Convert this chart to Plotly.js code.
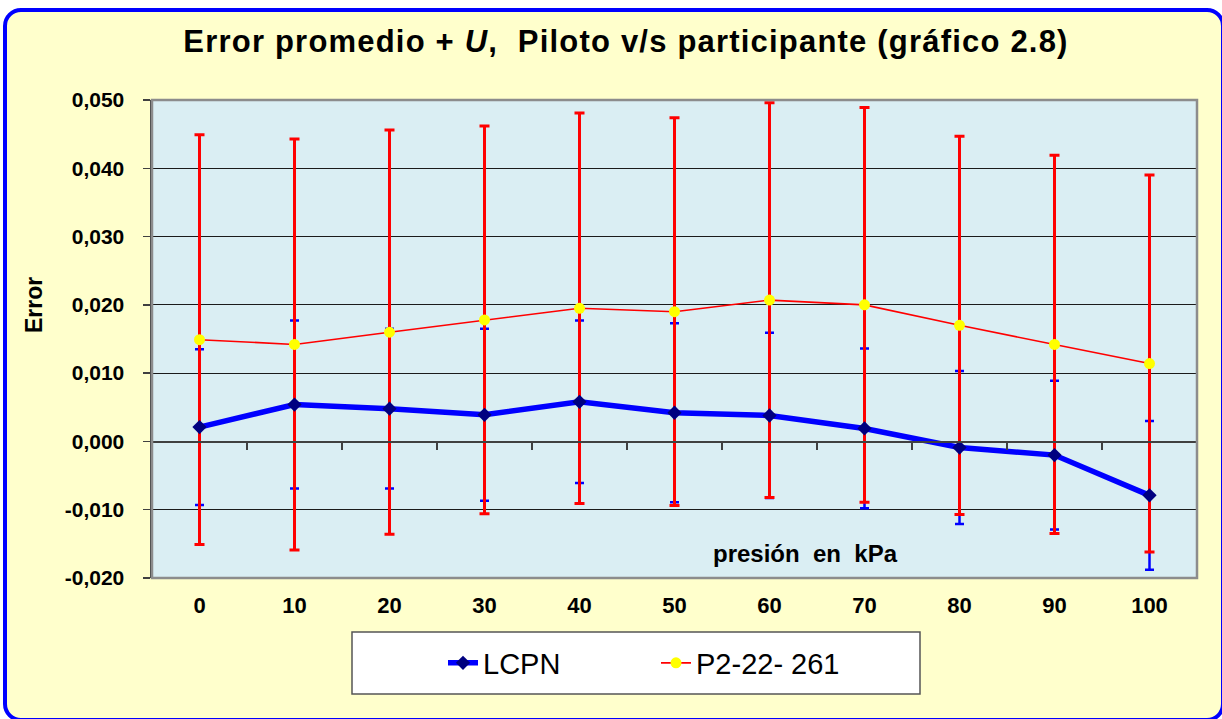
<!DOCTYPE html>
<html>
<head>
<meta charset="utf-8">
<script src="https://cdn.plot.ly/plotly-3.0.1.min.js"></script>
<style>
  html, body { margin:0; padding:0; background:#ffffff; width:1222px; height:719px; overflow:hidden; }
  #frame { position:absolute; left:3px; top:8px; width:1222px; height:714px; box-sizing:border-box;
           border:4px solid #0000ff; border-radius:18px; background:#FFFFCC; }
  #chart { position:absolute; left:0; top:0; width:1222px; height:719px; }
  #chart .gtitle { letter-spacing: 1.2px; }
</style>
</head>
<body>
<div id="frame"></div>
<div id="chart"></div>
<script>
// ---- data ----
const pressures = ['0','10','20','30','40','50','60','70','80','90','100'];
const lcpnError = [0.0021, 0.0054, 0.0048, 0.0039, 0.0058, 0.0042, 0.0038, 0.0019, -0.0009, -0.0020, -0.0079];
const lcpnU     = [0.0114, 0.0123, 0.0117, 0.0126, 0.0119, 0.0131, 0.0121, 0.0117, 0.0112, 0.0109, 0.0109];
const p2Error   = [0.0149, 0.0142, 0.0160, 0.0178, 0.0195, 0.0190, 0.0207, 0.0200, 0.0170, 0.0142, 0.0114];
const p2U       = [0.0300, 0.0301, 0.0296, 0.0284, 0.0286, 0.0284, 0.0289, 0.0289, 0.0277, 0.0277, 0.0276];
const yTickVals = [-0.02, -0.01, 0, 0.01, 0.02, 0.03, 0.04, 0.05];
const yTickText = ['-0,020', '-0,010', '0,000', '0,010', '0,020', '0,030', '0,040', '0,050'];
const seriesNames = ['LCPN', 'P2-22- 261'];

const FONT = 'Liberation Sans, Arial, Helvetica, sans-serif';

const traces = [
  { // LCPN uncertainty bars (drawn beneath the red bars)
    x: pressures, y: lcpnError, type: 'scatter', mode: 'markers',
    marker: {size: 1, color: 'rgba(0,0,0,0)'},
    error_y: {type: 'data', array: lcpnU, visible: true, color: '#0000ff', thickness: 2.5, width: 4.5},
    showlegend: false, hoverinfo: 'skip', xaxis: 'x', yaxis: 'y'
  },
  { // participant
    x: pressures, y: p2Error, type: 'scatter', mode: 'lines+markers', name: seriesNames[1],
    line: {color: '#ff0000', width: 1.6},
    marker: {symbol: 'circle', size: 11, color: '#ffff00'},
    error_y: {type: 'data', array: p2U, visible: true, color: '#ff0000', thickness: 3, width: 5},
    legendrank: 2, xaxis: 'x', yaxis: 'y'
  },
  { // LCPN line on top
    x: pressures, y: lcpnError, type: 'scatter', mode: 'lines+markers', name: seriesNames[0],
    line: {color: '#0000ff', width: 5.5},
    marker: {symbol: 'diamond', size: 11, color: '#000080'},
    legendrank: 1, xaxis: 'x2', yaxis: 'y'
  }
];

const plotTop = 100, plotBottom = 578, plotLeft = 152, plotRight = 1197;
const pw = plotRight - plotLeft, ph = plotBottom - plotTop;
const px = v => (v - plotLeft) / pw;
const py = v => (plotBottom - v) / ph;

const layout = {
  width: 1222, height: 719,
  margin: {l: plotLeft, r: 1222 - plotRight, t: plotTop, b: 719 - plotBottom},
  paper_bgcolor: 'rgba(0,0,0,0)',
  plot_bgcolor: '#DAEEF3',
  title: {
    text: 'Error promedio + <i>U</i>,\u00a0 Piloto v/s participante (gráfico 2.8)',
    font: {family: FONT, size: 31, color: '#000000', weight: 'bold'},
    xref: 'container', x: 626 / 1222, xanchor: 'center',
    yref: 'container', y: 1 - 41 / 719, yanchor: 'middle'
  },
  xaxis: {
    type: 'category', categoryorder: 'array', categoryarray: pressures,
    range: [-0.5, 10.5], showgrid: false, zeroline: false, showline: false,
    ticks: '', ticklabelstandoff: 12,
    tickfont: {family: FONT, size: 22, color: '#000000', weight: 'bold'},
    fixedrange: true
  },
  xaxis2: {
    type: 'category', categoryorder: 'array', categoryarray: pressures,
    overlaying: 'x', anchor: 'free', position: 2 / 7,
    range: [-0.5, 10.5], showgrid: false, zeroline: false,
    showline: true, linecolor: '#404040', linewidth: 1.5,
    ticks: 'outside', tickson: 'boundaries', ticklen: 7, tickwidth: 1.5, tickcolor: '#404040',
    showticklabels: false, fixedrange: true
  },
  yaxis: {
    range: [-0.02, 0.05], tickmode: 'array', tickvals: yTickVals, ticktext: yTickText,
    showgrid: true, gridcolor: '#1a1a1a', gridwidth: 1.2, zeroline: false,
    showline: true, linecolor: '#404040', linewidth: 2.5,
    ticks: 'outside', ticklen: 7, tickwidth: 1.5, tickcolor: '#404040',
    ticklabelstandoff: 14,
    tickfont: {family: FONT, size: 21, color: '#000000', weight: 'bold'},
    fixedrange: true
  },
  showlegend: true,
  legend: {
    orientation: 'h', x: px(443), xanchor: 'left', y: py(663), yanchor: 'middle',
    bgcolor: 'rgba(0,0,0,0)', borderwidth: 0,
    font: {family: FONT, size: 29, color: '#000000'},
    entrywidth: 168, itemwidth: 30
  },
  shapes: [
    {type: 'rect', xref: 'paper', yref: 'paper', x0: 0, x1: 1, y0: 0, y1: 1,
     line: {color: '#8c8c8c', width: 2.5}, fillcolor: 'rgba(0,0,0,0)', layer: 'above'},
    {type: 'rect', xref: 'paper', yref: 'paper', x0: px(352), x1: px(920), y0: py(694), y1: py(632),
     line: {color: '#555555', width: 1.5}, fillcolor: '#ffffff', layer: 'below'}
  ],
  annotations: [
    {text: 'Error', xref: 'paper', yref: 'paper', x: px(34), y: py(305),
     xanchor: 'center', yanchor: 'middle', textangle: -90, showarrow: false,
     font: {family: FONT, size: 23, color: '#000000', weight: 'bold'}},
    {text: 'presión\u00a0 en\u00a0 kPa', xref: 'paper', yref: 'paper', x: px(805), y: py(553),
     xanchor: 'center', yanchor: 'middle', showarrow: false,
     font: {family: FONT, size: 24, color: '#000000', weight: 'bold'}}
  ],
  hovermode: false
};

Plotly.newPlot('chart', traces, layout, {displayModeBar: false, staticPlot: true});
</script>
</body>
</html>
